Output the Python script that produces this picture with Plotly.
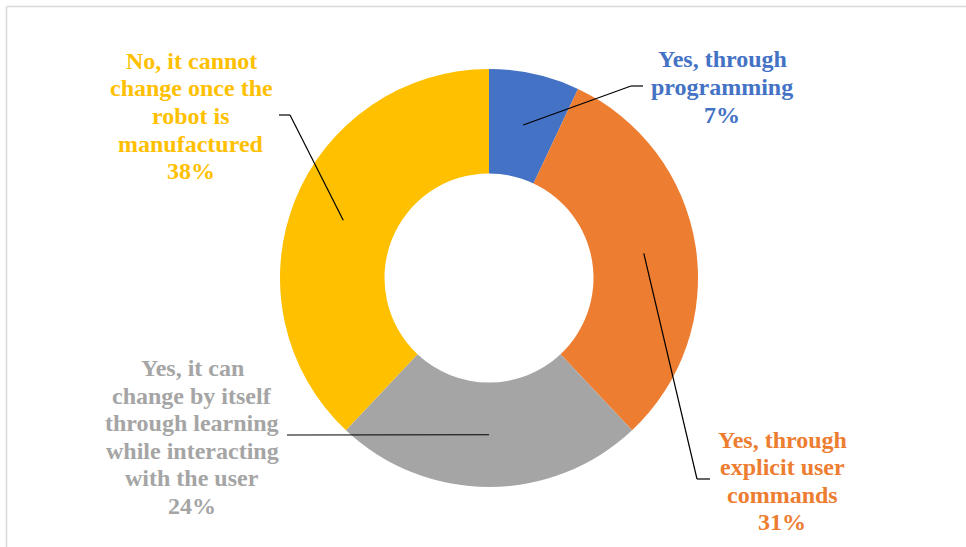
import math
import plotly.graph_objects as go

# Survey answers, clockwise from 12 o'clock
labels = [
    "Yes, through programming",
    "Yes, through explicit user commands",
    "Yes, it can change by itself through learning while interacting with the user",
    "No, it cannot change once the robot is manufactured",
]
label_lines = [
    ["Yes, through", "programming"],
    ["Yes, through", "explicit user", "commands"],
    ["Yes, it can", "change by itself", "through learning", "while interacting", "with the user"],
    ["No, it cannot", "change once the", "robot is", "manufactured"],
]
values = [7, 31, 24, 38]
colors = ["#4472C4", "#ED7D31", "#A5A5A5", "#FFC000"]

W, H = 966, 547
CX, CY = 489, 278          # donut centre, px
R_OUT = 209                # outer radius, px
HOLE = 0.5
R_MID = R_OUT * (1 + HOLE) / 2
LINE_STEP = 27.6           # label line pitch, px
FONT_SIZE = 24

# Label placement (text block centre) and leader elbow for each slice, px
label_pos = [(722, 87), (782, 481), (192, 437), (191, 116)]
elbows = [((631, 86), (643, 86)),
          ((697, 479), (710, 479)),
          (None, (287, 435)),
          ((290, 115), (279, 115))]


def px(x, y):
    return x / W, 1 - y / H


fig = go.Figure(go.Pie(
    labels=labels, values=values, sort=False, direction="clockwise", rotation=0,
    hole=HOLE, marker=dict(colors=colors, line=dict(width=0)),
    textinfo="none", showlegend=False,
    domain=dict(x=[(CX - R_OUT) / W, (CX + R_OUT) / W],
                y=[1 - (CY + R_OUT) / H, 1 - (CY - R_OUT) / H]),
))

shapes = []
annotations = []
total = sum(values)
cum = 0
for i, v in enumerate(values):
    mid = (cum + v / 2) / total * 2 * math.pi
    cum += v
    sx = CX + R_MID * math.sin(mid)
    sy = CY - R_MID * math.cos(mid)
    pts = [(sx, sy)] + [p for p in elbows[i] if p is not None]
    for (x0, y0), (x1, y1) in zip(pts[:-1], pts[1:]):
        a0, b0 = px(x0, y0)
        a1, b1 = px(x1, y1)
        shapes.append(dict(type="line", xref="paper", yref="paper",
                           x0=a0, y0=b0, x1=a1, y1=b1,
                           line=dict(color="black", width=1.2)))
    lines = label_lines[i] + [f"{v}%"]
    lx, ly = label_pos[i]
    n = len(lines)
    for k, line in enumerate(lines):
        ax, ay = px(lx, ly + (k - (n - 1) / 2) * LINE_STEP)
        annotations.append(dict(xref="paper", yref="paper", x=ax, y=ay,
                                xanchor="center", yanchor="middle", showarrow=False,
                                text=line, align="center",
                                font=dict(family="Liberation Serif", size=FONT_SIZE,
                                          weight="bold", color=colors[i])))

# light frame along the top and left edges
shapes.append(dict(type="line", xref="paper", yref="paper",
                   x0=6.5 / W, y0=1 - 6.5 / H, x1=1, y1=1 - 6.5 / H,
                   line=dict(color="#D9D9D9", width=1.5)))
shapes.append(dict(type="line", xref="paper", yref="paper",
                   x0=6.5 / W, y0=1 - 6.5 / H, x1=6.5 / W, y1=0,
                   line=dict(color="#D9D9D9", width=1.5)))

fig.update_layout(width=W, height=H, margin=dict(l=0, r=0, t=0, b=0),
                  paper_bgcolor="white", plot_bgcolor="white",
                  shapes=shapes, annotations=annotations)

fig.write_html("out.html")
